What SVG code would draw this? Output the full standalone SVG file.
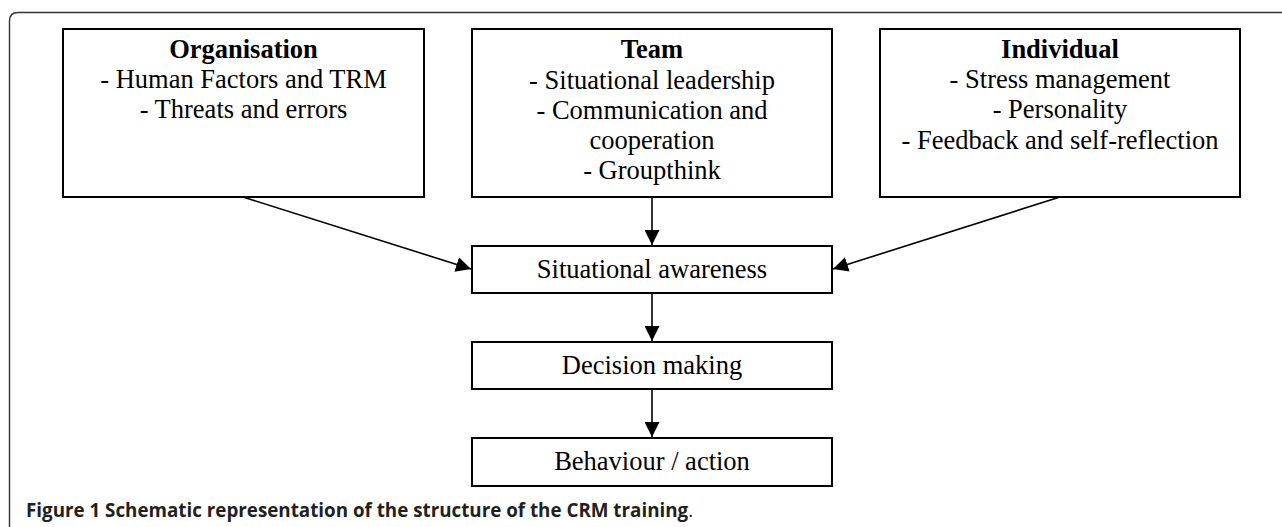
<svg xmlns="http://www.w3.org/2000/svg" width="1282" height="527" viewBox="0 0 1282 527">
<style>
.box{fill:#fff;stroke:#000;stroke-width:2}
.t{font-family:"Liberation Serif","Times New Roman",serif;font-size:26.5px;fill:#000;text-anchor:middle}
.b{font-weight:bold}
.conn{stroke:#000;stroke-width:1.6;fill:none}
.cap{font-family:"Open Sans","Noto Sans",sans-serif;font-size:18.8px;fill:#231f20}
</style>
<defs>
<marker id="ah" viewBox="0 0 15 15" refX="15" refY="7.5" markerWidth="15" markerHeight="15" markerUnits="userSpaceOnUse" orient="auto">
<path d="M0,0 L15,7.5 L0,15 Z" fill="#000"/>
</marker>
</defs>
<rect x="0" y="0" width="1282" height="527" fill="#fff"/>
<path d="M9.5,540 L9.5,21 Q9.5,12.5 18,12.5 L1300,12.5" fill="none" stroke="#333" stroke-width="1.4"/>
<g id="organisation">
<rect class="box" x="63" y="29" width="361" height="168"/>
<text class="t b" x="243.5" y="58">Organisation</text>
<text class="t" x="243.5" y="88">- Human Factors and TRM</text>
<text class="t" x="243.5" y="118">- Threats and errors</text>
</g>
<g id="team">
<rect class="box" x="472" y="29" width="360" height="168"/>
<text class="t b" x="652" y="58">Team</text>
<text class="t" x="652" y="88.5">- Situational leadership</text>
<text class="t" x="652" y="118.5">- Communication and</text>
<text class="t" x="652" y="148.5">cooperation</text>
<text class="t" x="652" y="178.5">- Groupthink</text>
</g>
<g id="individual">
<rect class="box" x="880" y="29" width="360" height="168"/>
<text class="t b" x="1060" y="58">Individual</text>
<text class="t" x="1060" y="88">- Stress management</text>
<text class="t" x="1060" y="118">- Personality</text>
<text class="t" x="1060" y="148.5">- Feedback and self-reflection</text>
</g>
<g id="situational-awareness">
<rect class="box" x="472" y="246" width="360" height="47"/>
<text class="t" x="652" y="278">Situational awareness</text>
</g>
<g id="decision-making">
<rect class="box" x="472" y="342" width="360" height="47"/>
<text class="t" x="652" y="374">Decision making</text>
</g>
<g id="behaviour-action">
<rect class="box" x="472" y="438" width="360" height="48"/>
<text class="t" x="652" y="470">Behaviour / action</text>
</g>
<g id="connectors">
<line class="conn" x1="243" y1="197" x2="471" y2="269" marker-end="url(#ah)"/>
<line class="conn" x1="652" y1="197" x2="652" y2="245" marker-end="url(#ah)"/>
<line class="conn" x1="1060" y1="197" x2="833" y2="269" marker-end="url(#ah)"/>
<line class="conn" x1="652" y1="293" x2="652" y2="341" marker-end="url(#ah)"/>
<line class="conn" x1="652" y1="389" x2="652" y2="437" marker-end="url(#ah)"/>
</g>
<text class="cap" x="26" y="516.5"><tspan font-weight="bold">Figure 1 Schematic representation of the structure of the CRM training</tspan>.</text>
</svg>
